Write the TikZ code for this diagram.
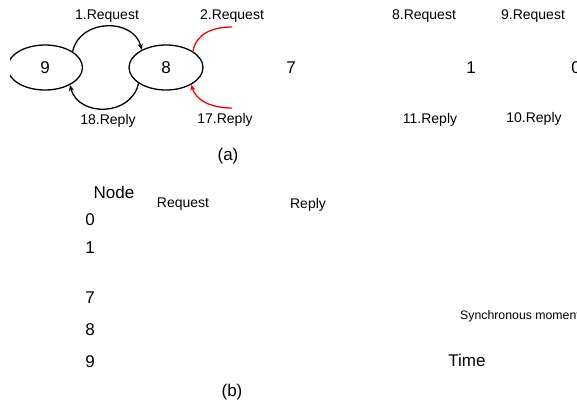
\documentclass[tikz,border=0pt]{standalone}
\usepackage{fontspec}
\setmainfont{Liberation Sans}
\usetikzlibrary{shapes.geometric,arrows.meta}
\begin{document}
\begin{tikzpicture}[x=1pt,y=-1pt,
  ell/.style={ellipse,draw,line width=1.3pt,minimum width=75pt,minimum height=45pt,inner sep=0pt,font=\fontsize{17}{17}\selectfont},
  big/.style={inner sep=0pt,font=\fontsize{17}{17}\selectfont},
  lbl/.style={inner sep=0pt,font=\fontsize{14}{14}\selectfont},
  small/.style={inner sep=0pt,font=\fontsize{12.3}{12}\selectfont},
  arc/.style={line width=1.3pt},
  tip/.style={-{Stealth[length=6pt,width=5pt]}},
  redarc/.style={line width=1.3pt,red}]
\useasboundingbox (0,0) rectangle (577,402);
\clip (0,0) rectangle (577,402);
% (a)
\begin{scope}
\clip (10,0) rectangle (577,402);
\node[ell] (n9) at (45,67.5) {9};
\end{scope}
\node[ell,minimum width=74pt] (n8) at (166,67.5) {8};
\node[big] (a7) at (291,68) {7};
\node[big] (a1) at (471,68) {1};
\node[big] (a0) at (576,68) {0};
\node[lbl] (r1) at (107,16.5) {1.Request};
\node[lbl] (r2) at (232,16.5) {2.Request};
\node[lbl] (r8) at (424,16.5) {8.Request};
\node[lbl] (r9) at (533,16.5) {9.Request};
\node[lbl] (p18) at (108,121) {18.Reply};
\node[lbl] (p17) at (225,119.5) {17.Reply};
\node[lbl] (p11) at (430,120) {11.Reply};
\node[lbl] (p10) at (534,119) {10.Reply};
\node[big] (capa) at (228,156) {(a)};
\coordinate (e2) at (232,27);
\coordinate (s17) at (232,108);
\draw[arc,tip] (n9.30) .. controls (80,18) and (134,18) .. (n8.144);
\draw[arc,tip] (n8.210) .. controls (131,117) and (78,117) .. (n9.325);
\draw[redarc] (n8.31) .. controls (196,34) and (212,27) .. (e2);
\draw[redarc,tip] (s17) .. controls (212,108) and (196,101) .. (n8.326);
% (b)
\node[big] (hnode) at (114,192) {Node};
\node[lbl] (hreq) at (183,204.5) {Request};
\node[lbl] (hrep) at (308,204.5) {Reply};
\node[big] (b0) at (90,220) {0};
\node[big] (b1) at (90,248) {1};
\node[big] (b7) at (90,298) {7};
\node[big] (b8) at (90,330) {8};
\node[big] (b9) at (90,362) {9};
\node[small,anchor=west] (sync) at (460,316) {Synchronous moment};
\node[big] (time) at (467,360) {Time};
\node[big] (capb) at (232,392) {(b)};
\end{tikzpicture}
\end{document}
